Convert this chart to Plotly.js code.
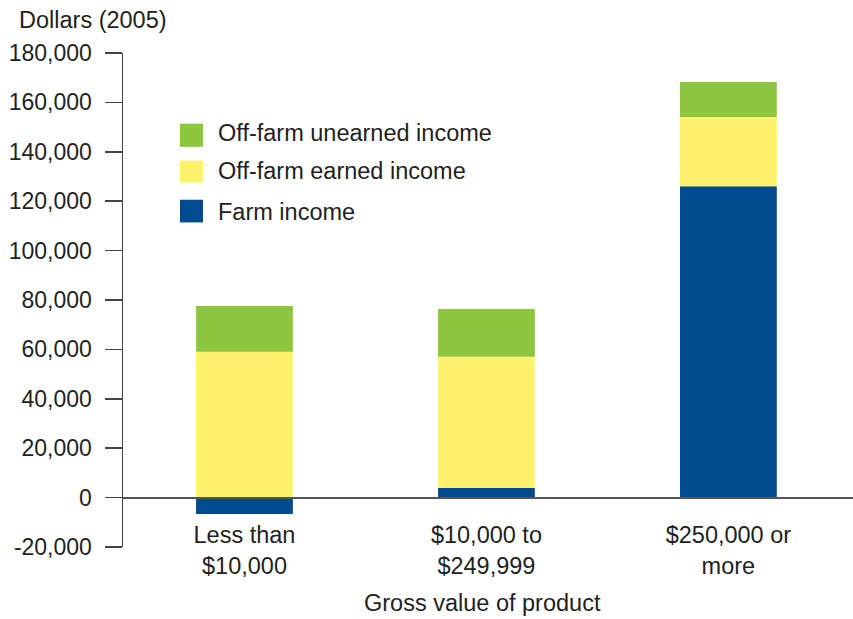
<!DOCTYPE html>
<html>
<head>
<meta charset="utf-8">
<script src="https://cdn.plot.ly/plotly-3.0.1.min.js"></script>
<style>html,body{margin:0;padding:0;background:#fff;}#chart{width:853px;height:619px;}</style>
</head>
<body>
<div id="chart"></div>
<script>
// Data
const categories = ["Less than<br>$10,000", "$10,000 to<br>$249,999", "$250,000 or<br>more"];
const farmIncome = [-6600, 3900, 126100];
const offFarmEarned = [59000, 53100, 28000];
const offFarmUnearned = [18600, 19400, 14200];
const seriesNames = ["Off-farm unearned income", "Off-farm earned income", "Farm income"];
const yTickVals = [-20000, 0, 20000, 40000, 60000, 80000, 100000, 120000, 140000, 160000, 180000];
const yTickText = ["-20,000", "0", "20,000", "40,000", "60,000", "80,000", "100,000", "120,000", "140,000", "160,000", "180,000"];

const colors = {farm: "#004b8d", earned: "#fef26c", unearned: "#8dc63f"};
const FONT = "Liberation Sans, Arial, Helvetica, sans-serif";
const TXT = "#231f20";

const traces = [
  {type: "bar", name: seriesNames[2], x: categories, y: farmIncome, marker: {color: colors.farm}, showlegend: false, hoverinfo: "y+name"},
  {type: "bar", name: seriesNames[1], x: categories, y: offFarmEarned, marker: {color: colors.earned}, showlegend: false, hoverinfo: "y+name"},
  {type: "bar", name: seriesNames[0], x: categories, y: offFarmUnearned, marker: {color: colors.unearned}, showlegend: false, hoverinfo: "y+name"}
];

// Legend drawn as swatches + labels (paper coords)
const legendColors = [colors.unearned, colors.earned, colors.farm];
const swatchY = [[0.810, 0.857], [0.738, 0.782], [0.657, 0.703]];
const labelY = [0.839, 0.762, 0.679];
const shapes = [];
const annotations = [];
seriesNames.forEach((n, i) => {
  shapes.push({type: "rect", xref: "paper", yref: "paper", x0: 0.0781, x1: 0.1096, y0: swatchY[i][0], y1: swatchY[i][1], fillcolor: legendColors[i], line: {width: 0}});
  annotations.push({xref: "paper", yref: "paper", x: 0.1274, y: labelY[i], xanchor: "left", yanchor: "middle", text: n, showarrow: false, font: {family: FONT, size: 23.5, color: TXT}});
});
annotations.push({xref: "paper", yref: "paper", x: -0.145, y: 1.067, xanchor: "left", yanchor: "middle", text: "Dollars (2005)", showarrow: false, font: {family: FONT, size: 23.5, color: TXT}});
annotations.push({xref: "paper", yref: "paper", x: 0.493, y: -0.113, xanchor: "center", yanchor: "middle", text: "Gross value of product", showarrow: false, font: {family: FONT, size: 23.5, color: TXT}});

const layout = {
  width: 853, height: 619,
  margin: {l: 123, r: 0, t: 53, b: 72},
  paper_bgcolor: "#fff", plot_bgcolor: "#fff",
  barmode: "relative",
  bargap: 0.6,
  font: {family: FONT, size: 23, color: TXT},
  xaxis: {
    type: "category",
    range: [-0.502, 2.515],
    showgrid: false, showline: false, ticks: "", zeroline: false,
    anchor: "free", position: 0.1,
    ticklabelstandoff: 21,
    tickfont: {family: FONT, size: 23.5, color: TXT},
    fixedrange: true
  },
  yaxis: {
    range: [-20000, 180000],
    tickvals: yTickVals, ticktext: yTickText,
    showgrid: false,
    showline: true, linecolor: "#444", linewidth: 1.5,
    ticks: "outside", ticklen: 17, tickwidth: 1.5, tickcolor: "#444",
    ticklabelstandoff: 8,
    zeroline: true, zerolinecolor: "#555", zerolinewidth: 2,
    zerolinelayer: "above traces",
    tickfont: {family: FONT, size: 23, color: TXT},
    fixedrange: true
  },
  shapes: shapes,
  annotations: annotations
};

Plotly.newPlot("chart", traces, layout, {displayModeBar: false, staticPlot: true});
</script>
</body>
</html>
